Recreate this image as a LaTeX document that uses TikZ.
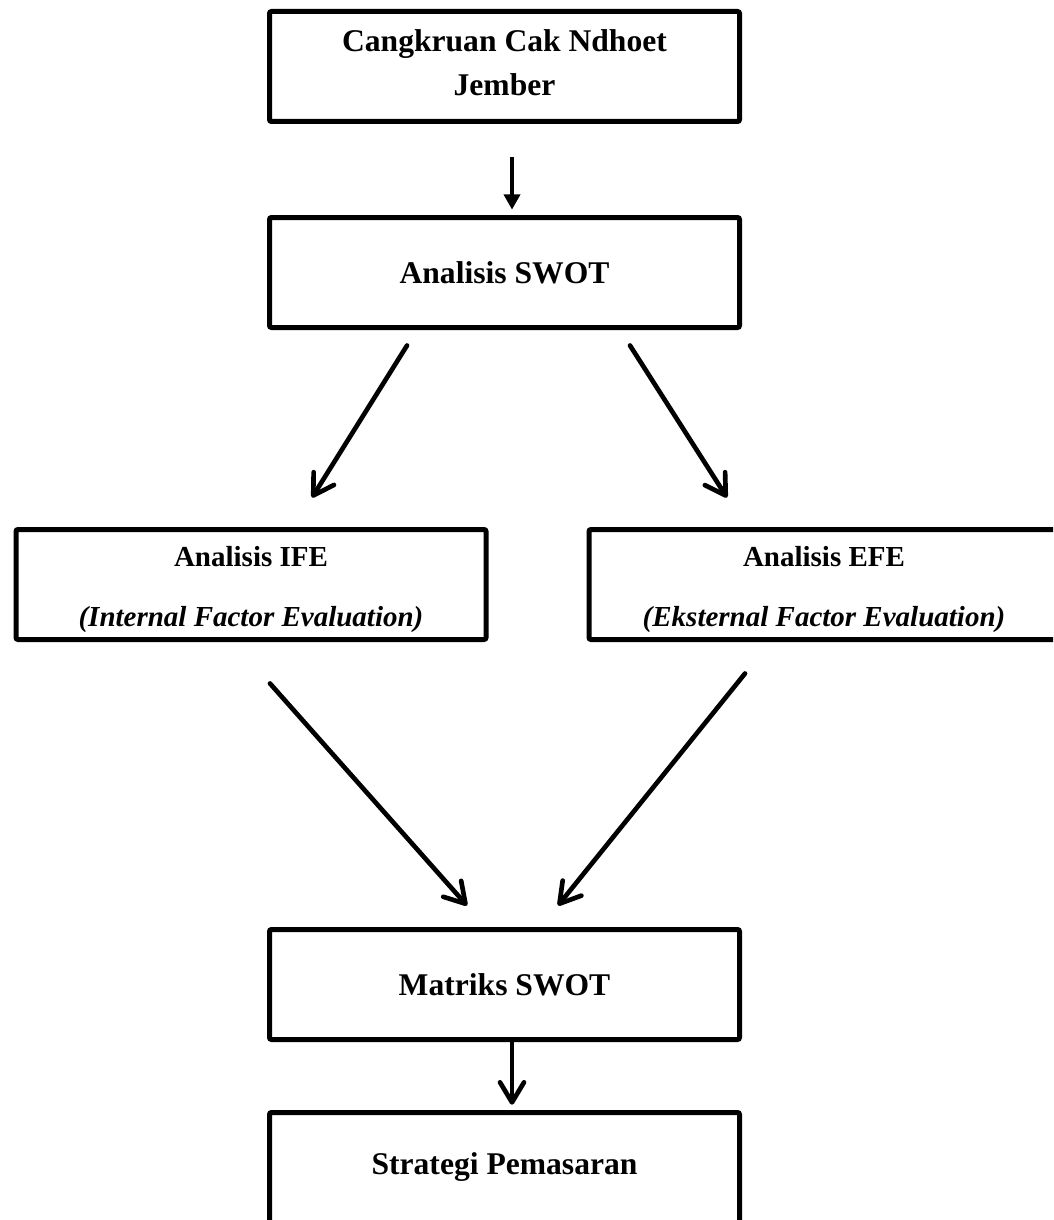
\documentclass[tikz,border=0pt]{standalone}
\usepackage{fontspec}
\setmainfont{Liberation Serif}
\usetikzlibrary{arrows.meta,calc}
\begin{document}
\begin{tikzpicture}[x=0.75pt,y=-0.75pt,
  box/.style={draw, line width=3.75pt, rounded corners=1.5pt, minimum width=352.5pt, minimum height=82.5pt, inner sep=0pt, align=center, font=\fontsize{23.7}{33}\selectfont\bfseries},
  subbox/.style={box, font=\fontsize{21.75}{45}\selectfont\bfseries},
  conn/.style={line width=3.5pt, line cap=round, line join=round, -{Straight Barb[length=15pt,width=18pt,line cap=round,line join=round]}},
  tri/.style={line width=3.2pt, -{Triangle[length=11.5pt,width=12pt]}}]
\useasboundingbox (0,0) rectangle (1053,1220);
\clip (0,0) rectangle (1053,1220);
\node[box] (top) at (504.5,66.5) {Cangkruan Cak Ndhoet\\Jember\rule[-5.2pt]{0pt}{5.2pt}};
\node[box] (swot) at (504.5,272.5) {Analisis SWOT};
\node[subbox] (ife) at (251,584.5) {\rule{0pt}{22.3pt}Analisis IFE\\{\itshape (Internal Factor Evaluation)}};
\node[subbox] (efe) at (824,584.5) {\rule{0pt}{22.3pt}Analisis EFE\\{\itshape (Eksternal Factor Evaluation)}};
\node[box] (mat) at (504.5,984.5) {Matriks SWOT};
\node[box] (str) at (504.5,1167.5) {Strategi Pemasaran};
\draw[tri, shorten <=25pt, shorten >=4pt] ([xshift=5.625pt]top.south) -- ([xshift=5.625pt]swot.north);
\draw[conn] ($(swot.south)+(-97.5,15.5)$) -- ($(ife.north)+(61,-29.5)$);
\draw[conn] ($(swot.south)+(125.5,15.5)$) -- ($(efe.north)+(-97,-29.5)$);
\draw[conn] ($(ife.south)+(19,41.5)$) -- ($(mat.north)+(-37.5,-21.5)$);
\draw[conn] ($(efe.south)+(-79,31.5)$) -- ($(mat.north)+(53.5,-21.5)$);
\draw[conn, shorten >=4pt] ([xshift=5.625pt]mat.south) -- ([xshift=5.625pt]str.north);
\end{tikzpicture}
\end{document}
